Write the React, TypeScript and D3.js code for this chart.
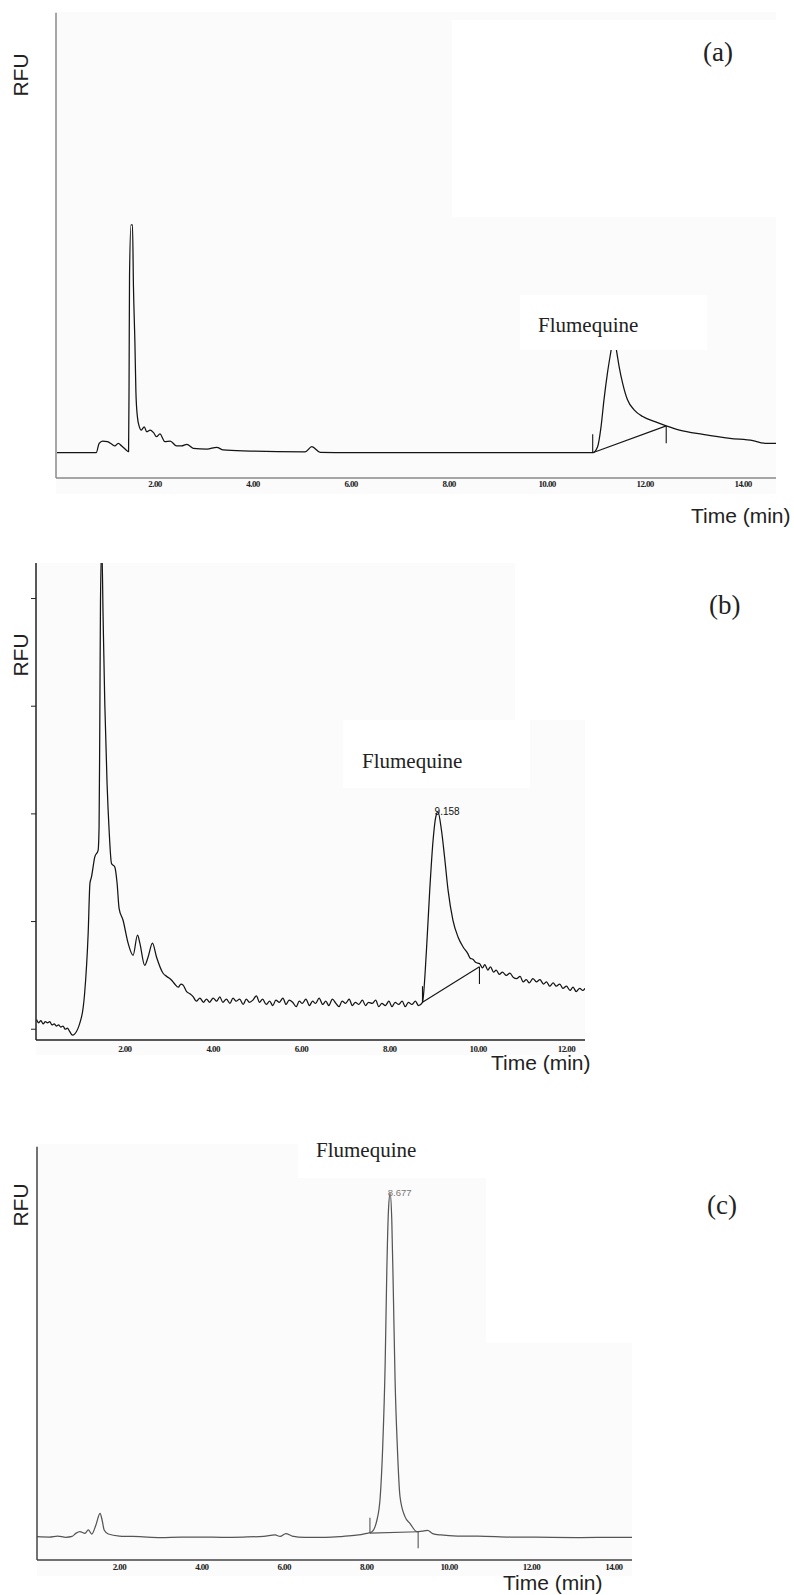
import React from "react";
import * as d3 from "d3";

type Pt = [number, number];

// ---------- tick labels ----------
const timeTicksA = [2, 4, 6, 8, 10, 12, 14];
const timeTicksB = [2, 4, 6, 8, 10, 12];
const timeTicksC = [2, 4, 6, 8, 10, 12, 14];
const rfuTicksB = [0, 1, 2, 3, 4];

// ---------- panel (a) trace: [time (min), RFU] ----------
const traceA: Pt[] = [
  [0.0, 5.44], [0.8, 5.44], [0.86, 7.46], [0.93, 7.95], [1.03, 7.8], [1.12, 7.24],
  [1.18, 6.88], [1.25, 7.46], [1.32, 6.88], [1.41, 6.02], [1.46, 5.65], [1.47, 19.6],
  [1.48, 43.6], [1.51, 54.4], [1.54, 54.4], [1.56, 41.1], [1.59, 28.9], [1.61, 18.5],
  [1.64, 13.2], [1.68, 11.0], [1.72, 10.3], [1.78, 11.0], [1.83, 9.95], [1.9, 10.3],
  [1.97, 9.74], [2.03, 8.88], [2.1, 9.46], [2.2, 7.8], [2.31, 7.95], [2.44, 6.88],
  [2.54, 6.88], [2.65, 7.24], [2.78, 6.38], [3.06, 6.23], [3.26, 6.6], [3.39, 6.02],
  [3.94, 5.8], [4.5, 5.65], [5.06, 5.6], [5.2, 6.73], [5.37, 5.52], [6.0, 5.44],
  [8.0, 5.44], [10.93, 5.44], [11.03, 6.73], [11.1, 11.0], [11.16, 16.8], [11.23, 22.5],
  [11.3, 27.1], [11.36, 30.7], [11.42, 27.1], [11.47, 23.9], [11.54, 20.4], [11.64, 16.8],
  [11.78, 14.6], [11.95, 13.2], [12.2, 12.1], [12.43, 11.2], [12.7, 10.3], [13.18, 9.39],
  [13.73, 8.53], [14.2, 8.02], [14.45, 7.46], [14.67, 7.46],
];
const baselineA: Pt[] = [[10.93, 5.44], [12.43, 11.2]];
const markersA: [number, number, number][] = [[10.93, 9.39, 5.44], [12.43, 11.2, 7.46]];

// ---------- panel (b) trace ----------
const traceB: Pt[] = [
  [0.0, 0.09], [0.05, 0.06], [0.1, 0.08], [0.15, 0.05], [0.2, 0.07], [0.25, 0.06],
  [0.3, 0.07], [0.35, 0.04], [0.4, 0.05], [0.45, 0.03], [0.5, 0.04], [0.55, 0.02],
  [0.6, 0.03], [0.65, 0.0], [0.7, 0.01], [0.75, -0.02], [0.815, -0.055], [1.02, 0.114],
  [1.09, 0.334], [1.17, 0.891], [1.21, 1.355], [1.245, 1.414], [1.32, 1.6], [1.395, 1.662],
  [1.417, 1.878], [1.433, 2.807], [1.449, 3.98], [1.478, 4.5], [1.508, 3.83], [1.546, 3.03],
  [1.598, 2.28], [1.644, 1.85], [1.698, 1.54], [1.773, 1.507], [1.825, 1.356], [1.87, 1.123],
  [1.96, 1.012], [2.074, 0.8], [2.187, 0.687], [2.287, 0.873], [2.34, 0.8], [2.45, 0.594],
  [2.527, 0.671], [2.626, 0.8], [2.717, 0.671], [2.866, 0.52], [2.95, 0.49], [3.06, 0.455],
  [3.13, 0.42], [3.21, 0.39], [3.27, 0.42], [3.32, 0.41], [3.4, 0.35], [3.47, 0.33],
  [3.55, 0.3], [3.62, 0.26], [3.7, 0.29], [3.78, 0.25], [3.85, 0.28], [3.92, 0.25],
  [4.0, 0.29], [4.08, 0.26], [4.15, 0.3], [4.22, 0.25], [4.3, 0.28], [4.38, 0.24],
  [4.45, 0.29], [4.52, 0.26], [4.6, 0.28], [4.68, 0.23], [4.75, 0.28], [4.82, 0.25],
  [4.9, 0.27], [4.98, 0.31], [5.05, 0.25], [5.12, 0.28], [5.2, 0.23], [5.28, 0.26],
  [5.35, 0.22], [5.42, 0.27], [5.5, 0.25], [5.58, 0.29], [5.65, 0.23], [5.72, 0.27],
  [5.8, 0.25], [5.88, 0.21], [5.95, 0.26], [6.02, 0.24], [6.1, 0.28], [6.18, 0.22],
  [6.25, 0.26], [6.32, 0.24], [6.4, 0.29], [6.48, 0.23], [6.55, 0.26], [6.62, 0.22],
  [6.7, 0.28], [6.78, 0.24], [6.85, 0.21], [6.92, 0.26], [7.0, 0.24], [7.08, 0.28],
  [7.15, 0.22], [7.22, 0.25], [7.3, 0.23], [7.38, 0.27], [7.45, 0.22], [7.52, 0.25],
  [7.6, 0.24], [7.68, 0.27], [7.75, 0.21], [7.82, 0.24], [7.9, 0.22], [7.98, 0.26],
  [8.05, 0.21], [8.12, 0.25], [8.2, 0.23], [8.28, 0.26], [8.35, 0.21], [8.42, 0.25],
  [8.5, 0.23], [8.58, 0.26], [8.65, 0.22], [8.74, 0.25], [8.83, 0.733], [8.904, 1.29],
  [8.98, 1.755], [9.04, 1.97], [9.09, 2.018], [9.17, 1.848], [9.24, 1.6], [9.32, 1.29],
  [9.43, 1.012], [9.545, 0.857], [9.66, 0.764], [9.77, 0.7], [9.82, 0.66], [9.88, 0.65],
  [9.95, 0.62], [10.03, 0.61], [10.1, 0.57], [10.15, 0.6], [10.22, 0.55], [10.28, 0.58],
  [10.35, 0.53], [10.41, 0.55], [10.48, 0.51], [10.55, 0.53], [10.64, 0.5], [10.72, 0.52],
  [10.8, 0.48], [10.87, 0.47], [10.95, 0.49], [11.02, 0.44], [11.09, 0.46], [11.16, 0.43],
  [11.24, 0.47], [11.32, 0.44], [11.4, 0.46], [11.48, 0.42], [11.55, 0.44], [11.62, 0.4],
  [11.7, 0.43], [11.77, 0.4], [11.85, 0.42], [11.92, 0.38], [12.0, 0.4], [12.08, 0.36],
  [12.15, 0.39], [12.22, 0.35], [12.3, 0.38], [12.37, 0.36], [12.42, 0.38],
];
const baselineB: Pt[] = [[8.74, 0.25], [10.03, 0.58]];
const markersB: [number, number, number][] = [[8.74, 0.4, 0.25], [10.03, 0.58, 0.42]];

// ---------- panel (c) trace ----------
const traceC: Pt[] = [
  [0.0, 5.64], [0.3, 5.56], [0.5, 5.8], [0.7, 5.5], [0.85, 5.7], [0.95, 6.5],
  [1.04, 6.85], [1.165, 6.46], [1.245, 7.26], [1.33, 6.29], [1.43, 8.47], [1.53, 11.3],
  [1.58, 9.68], [1.63, 7.26], [1.73, 6.29], [2.0, 5.8], [2.5, 5.64], [3.0, 5.44],
  [3.5, 5.56], [4.0, 5.56], [4.5, 5.5], [5.0, 5.56], [5.5, 5.7], [5.78, 6.05],
  [5.9, 5.7], [6.04, 6.41], [6.19, 5.8], [6.5, 5.5], [7.0, 5.5], [7.35, 5.64],
  [7.7, 5.93], [8.0, 6.46], [8.12, 6.77], [8.25, 9.68], [8.33, 15.3], [8.39, 27.4],
  [8.45, 47.7], [8.49, 70.2], [8.53, 84.7], [8.57, 88.7], [8.61, 82.3], [8.65, 63.7],
  [8.69, 43.6], [8.745, 27.4], [8.81, 15.3], [8.93, 10.5], [9.05, 8.88], [9.22, 6.85],
  [9.35, 7.0], [9.48, 7.14], [9.6, 6.4], [9.8, 6.05], [10.2, 5.8], [10.7, 5.8],
  [11.5, 5.56], [12.5, 5.5], [13.2, 5.44], [14.0, 5.5], [14.44, 5.5],
];
const baselineC: Pt[] = [[8.08, 6.5], [9.25, 6.85]];
const markersC: [number, number, number][] = [[8.08, 10.2, 6.4], [9.25, 6.85, 2.83]];

const peakLabelB = { t: 9.06, v: 2.02, text: "9.158" };
const peakLabelC = { t: 8.56, v: 88.9, text: "8.677" };

// ---------- layout (positions / styles) ----------
const panels = [
  {
    id: "a",
    trace: traceA, baseline: baselineA, markers: markersA, xTicks: timeTicksA, yTicks: [] as number[],
    xDomain: [0, 14.67], xRange: [57, 776], yDomain: [0, 100], yRange: [478, 12.7],
    axisX: 56, axisTop: 12.7, axisBottom: 478, axisRight: 776,
    bg: { x: 56, y: 12, w: 720, h: 482 },
    boxes: [{ x: 452, y: 20, w: 324, h: 197 }, { x: 520, y: 295, w: 187, h: 55 }],
    axisColor: "#8a8a8a", traceColor: "#141414", tickLabelY: 487,
    flume: { x: 538, y: 332 }, letter: { x: 703, y: 61, t: "(a)" },
    rfu: { x: 28, y: 75 }, time: { x: 691, y: 523 },
    peakLabel: null as null | { t: number; v: number; text: string },
    peakColor: "#111", peakSize: 10,
  },
  {
    id: "b",
    trace: traceB, baseline: baselineB, markers: markersB, xTicks: timeTicksB, yTicks: rfuTicksB,
    xDomain: [0, 12.42], xRange: [36.5, 585], yDomain: [-0.1, 4.33], yRange: [1040, 563],
    axisX: 36, axisTop: 563, axisBottom: 1040, axisRight: 585,
    bg: { x: 36, y: 563, w: 549, h: 492 },
    boxes: [{ x: 343, y: 720, w: 187, h: 68 }, { x: 515, y: 563, w: 70, h: 157 }],
    axisColor: "#222", traceColor: "#141414", tickLabelY: 1052,
    flume: { x: 362, y: 768 }, letter: { x: 709, y: 614, t: "(b)" },
    rfu: { x: 28, y: 655 }, time: { x: 491, y: 1070 },
    peakLabel: peakLabelB, peakColor: "#111", peakSize: 10,
  },
  {
    id: "c",
    trace: traceC, baseline: baselineC, markers: markersC, xTicks: timeTicksC, yTicks: [] as number[],
    xDomain: [0, 14.44], xRange: [37, 632], yDomain: [0, 100], yRange: [1560, 1146.7],
    axisX: 37, axisTop: 1146.7, axisBottom: 1560, axisRight: 632,
    bg: { x: 37, y: 1144, w: 595, h: 432 },
    boxes: [{ x: 298, y: 1144, w: 188, h: 34 }, { x: 486, y: 1144, w: 146, h: 199 }],
    axisColor: "#444", traceColor: "#555555", tickLabelY: 1570,
    flume: { x: 316, y: 1157 }, letter: { x: 707, y: 1214, t: "(c)" },
    rfu: { x: 28, y: 1205 }, time: { x: 503, y: 1590 },
    peakLabel: peakLabelC, peakColor: "#777", peakSize: 9.5,
  },
];

function Panel({ p }: { p: (typeof panels)[number] }) {
  const x = d3.scaleLinear().domain(p.xDomain).range(p.xRange);
  const y = d3.scaleLinear().domain(p.yDomain).range(p.yRange);
  const line = d3
    .line<Pt>()
    .x((d) => x(d[0]))
    .y((d) => y(d[1]))
    .curve(d3.curveMonotoneX);
  const straight = d3
    .line<Pt>()
    .x((d) => x(d[0]))
    .y((d) => y(d[1]));
  const clipId = `clip-${p.id}`;
  return (
    <g>
      <defs>
        <clipPath id={clipId}>
          <rect x={p.axisX} y={p.axisTop} width={p.axisRight - p.axisX} height={p.axisBottom - p.axisTop} />
        </clipPath>
      </defs>
      <rect x={p.bg.x} y={p.bg.y} width={p.bg.w} height={p.bg.h} fill="#fbfbfb" />
      <g clipPath={`url(#${clipId})`}>
        <path d={line(p.trace) || ""} fill="none" stroke={p.traceColor} strokeWidth={1.25} strokeLinejoin="round" />
        <path d={straight(p.baseline) || ""} fill="none" stroke={p.traceColor} strokeWidth={1.1} />
        {p.markers.map((m, i) => (
          <line key={i} x1={x(m[0])} x2={x(m[0])} y1={y(m[1])} y2={y(m[2])} stroke={p.traceColor} strokeWidth={1.1} />
        ))}
      </g>
      {p.boxes.map((b, i) => (
        <rect key={i} x={b.x} y={b.y} width={b.w} height={b.h} fill="#ffffff" />
      ))}
      <line x1={p.axisX} x2={p.axisX} y1={p.axisTop} y2={p.axisBottom} stroke={p.axisColor} strokeWidth={1.5} />
      <line x1={p.axisX} x2={p.axisRight} y1={p.axisBottom} y2={p.axisBottom} stroke={p.axisColor} strokeWidth={1.5} />
      {p.yTicks.map((t) => (
        <line key={t} x1={p.axisX - 5} x2={p.axisX} y1={y(t)} y2={y(t)} stroke={p.axisColor} strokeWidth={1} />
      ))}
      {p.xTicks.map((t) => (
        <text
          key={t}
          x={x(t)}
          y={p.tickLabelY}
          textAnchor="middle"
          fontFamily="'Liberation Serif', serif"
          fontSize={9}
          fontWeight="bold"
          letterSpacing={-0.6}
          fill="#222"
        >
          {t.toFixed(2)}
        </text>
      ))}
      {p.peakLabel && (
        <text
          x={x(p.peakLabel.t) - 2}
          y={y(p.peakLabel.v) + 3}
          fontFamily="'Liberation Sans', Arial, sans-serif"
          fontSize={p.peakSize}
          fill={p.peakColor}
        >
          {p.peakLabel.text}
        </text>
      )}
      <text x={p.flume.x} y={p.flume.y} fontFamily="'Liberation Serif', serif" fontSize={21} fill="#222">
        Flumequine
      </text>
      <text x={p.letter.x} y={p.letter.y} fontFamily="'Liberation Serif', serif" fontSize={27} fill="#222">
        {p.letter.t}
      </text>
      <text
        transform={`translate(${p.rfu.x},${p.rfu.y}) rotate(-90)`}
        textAnchor="middle"
        fontFamily="'Liberation Sans', Arial, sans-serif"
        fontSize={21}
        fill="#222"
      >
        RFU
      </text>
      <text x={p.time.x} y={p.time.y} fontFamily="'Liberation Sans', Arial, sans-serif" fontSize={21} fill="#222">
        Time (min)
      </text>
    </g>
  );
}

export default function App() {
  return (
    <svg
      width={794}
      height={1595}
      viewBox="0 0 794 1595"
      style={{ position: "absolute", left: 0, top: 0, background: "#ffffff" }}
    >
      <rect x={0} y={0} width={794} height={1595} fill="#ffffff" />
      {panels.map((p) => (
        <Panel key={p.id} p={p} />
      ))}
    </svg>
  );
}
